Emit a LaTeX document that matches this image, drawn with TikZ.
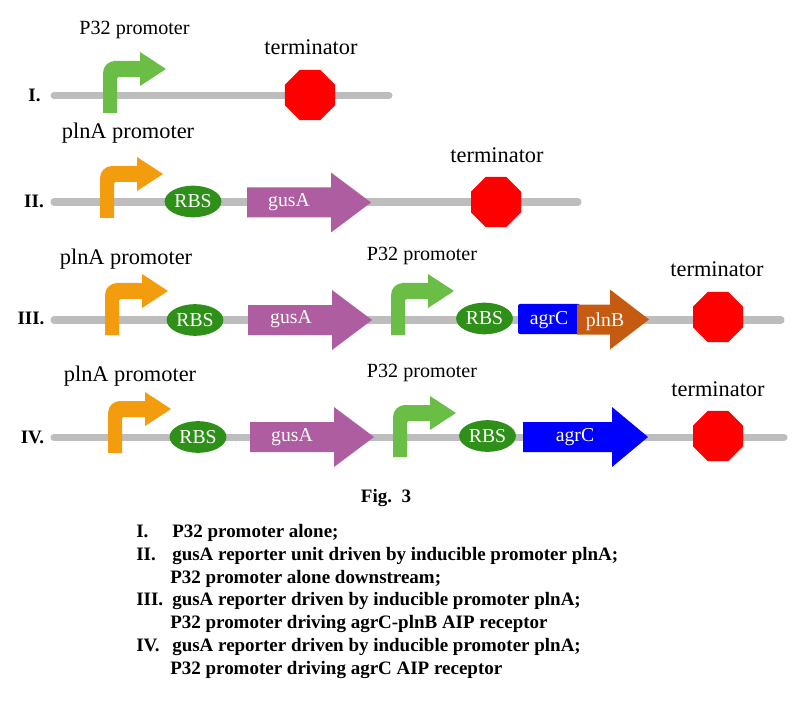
\documentclass[tikz,border=0pt]{standalone}
\usepackage{fontspec}
\setmainfont{Liberation Serif}
\usetikzlibrary{shapes.geometric}
\definecolor{backbonegray}{HTML}{BDBDBD}
\definecolor{p32green}{HTML}{6ABD45}
\definecolor{plnAorange}{HTML}{F39C0E}
\definecolor{rbsgreen}{HTML}{2F9019}
\definecolor{gusApurple}{HTML}{AE5DA1}
\definecolor{plnBorange}{HTML}{C55A11}
\tikzset{
	backbone/.style={line width=5pt, line cap=round, color=backbonegray},
	labeltext/.style={yshift=-1.2pt, font=\fontsize{15.9}{18}\selectfont},
	smalllabel/.style={yshift=-1.6pt, font=\fontsize{14.3}{16}\selectfont},
	genetext/.style={text=white, yshift=-1.2pt, font=\fontsize{14}{16}\selectfont},
	rownum/.style={font=\bfseries\fontsize{13.5}{16}\selectfont},
	captiontext/.style={anchor=base west, inner sep=0, font=\bfseries\fontsize{13.5}{16}\selectfont},
	rbsnode/.style={ellipse, fill=rbsgreen, minimum width=1.42cm, minimum height=0.79cm, inner sep=0, text=white, font=\fontsize{14}{16}\selectfont},
	stopnode/.style={regular polygon, regular polygon sides=8, fill=red, minimum size=1.353cm, inner sep=0, outer sep=0}
}
\def\promoter[#1](#2,#3){\fill[#1] (#2,#3) [rounded corners=0.3cm] -- ++(0,-52) -- ++(22,0) [sharp corners] -- ++(15,0) -- ++(0,-9) -- ++(26,17) -- ++(-26,17) -- ++(0,-9) -- ++(-12,0) [rounded corners=0.05cm] -- ++(-11,0) [sharp corners] -- ++(0,36) -- cycle;}
\def\genearrow[#1](#2,#3)(#4:#5){\fill[#1] (#2,#3-15) -- (#4,#3-15) -- (#4,#3-30) -- (#5,#3) -- (#4,#3+30) -- (#4,#3+15) -- (#2,#3+15) -- cycle;}

\begin{document}
\begin{tikzpicture}[x=0.025cm,y=-0.025cm]
				\useasboundingbox (0,0) rectangle (800,701);
				
				% row I
				\coordinate (startI) at (54,95.5);
				\coordinate (endI) at (389,95.5);
				\draw[backbone] (startI) -- (endI);
				\promoter[p32green](103,113);
				\node[stopnode] (stopI) at (310,95) {};
				\node[rownum] (numI) at (34.5,95) {I.};
				\node[smalllabel] (promI) at (134.5,28) {P32 promoter};
				\node[labeltext] (termI) at (311,46) {terminator};
				
				% row II
				\coordinate (startII) at (54,202);
				\coordinate (endII) at (578,202);
				\draw[backbone] (startII) -- (endII);
				\promoter[plnAorange](100,218);
				\node[rbsnode] (rbsII) at (193,201.5) {RBS};
				\genearrow[gusApurple](247,202.5)(331:371);
				\node[genetext] (gusII) at (289,200) {gusA};
				\node[stopnode] (stopII) at (496,202) {};
				\node[rownum] (numII) at (34,201) {II.};
				\node[labeltext] (promII) at (128,131) {plnA promoter};
				\node[labeltext] (termII) at (497,154) {terminator};
				
				% row III
				\coordinate (startIII) at (54,320);
				\coordinate (endIII) at (781,320);
				\draw[backbone] (startIII) -- (endIII);
				\promoter[plnAorange](105,335);
				\promoter[p32green](391,335);
				\node[rbsnode] (rbsIIIa) at (195,320) {RBS};
				\node[rbsnode] (rbsIIIb) at (484.5,318.5) {RBS};
				\genearrow[gusApurple](248,320)(332:372);
				\fill[blue, rounded corners=0.05cm] (518,304) rectangle (580,334);
				\genearrow[plnBorange](577,319.5)(610:649);
				\node[genetext] (gusIII) at (291,317) {gusA};
				\node[genetext] (agrIII) at (549,318) {agrC};
				\node[genetext] (plnIII) at (605,320) {plnB};
				\node[stopnode] (stopIII) at (718,317) {};
				\node[rownum] (numIII) at (31,318) {III.};
				\node[labeltext] (promIIIa) at (126,257) {plnA promoter};
				\node[smalllabel] (promIIIb) at (422,254) {P32 promoter};
				\node[labeltext] (termIII) at (717,268) {terminator};
				
				% row IV
				\coordinate (startIV) at (54,437.5);
				\coordinate (endIV) at (784,437.5);
				\draw[backbone] (startIV) -- (endIV);
				\promoter[plnAorange](108,453);
				\promoter[p32green](393,457);
				\node[rbsnode] (rbsIVa) at (198,437) {RBS};
				\node[rbsnode] (rbsIVb) at (487.5,436) {RBS};
				\genearrow[gusApurple](250,437)(334:374);
				\genearrow[blue](523,437)(612:648);
				\node[genetext] (gusIV) at (292,435) {gusA};
				\node[genetext] (agrIV) at (575,435) {agrC};
				\node[stopnode] (stopIV) at (718,436) {};
				\node[rownum] (numIV) at (32.5,437) {IV.};
				\node[labeltext] (promIVa) at (130,374) {plnA promoter};
				\node[smalllabel] (promIVb) at (422,371) {P32 promoter};
				\node[labeltext] (termIV) at (718,388) {terminator};
				
				% caption
				\node[rownum] (fig) at (386,498) {Fig.\ \ 3};
				\node[captiontext] (capa) at (136,537) {I.};
				\node[captiontext] (capb) at (172,537) {P32 promoter alone;};
				\node[captiontext] (capc) at (136,560) {II.};
				\node[captiontext] (capd) at (172,560) {gusA reporter unit driven by inducible promoter plnA;};
				\node[captiontext] (cape) at (170,583) {P32 promoter alone downstream;};
				\node[captiontext] (capf) at (136,605) {III.};
				\node[captiontext] (capg) at (172,605) {gusA reporter driven by inducible promoter plnA;};
				\node[captiontext] (caph) at (170,628) {P32 promoter driving agrC-plnB AIP receptor};
				\node[captiontext] (capi) at (136,651) {IV.};
				\node[captiontext] (capj) at (172,651) {gusA reporter driven by inducible promoter plnA;};
				\node[captiontext] (capk) at (170,674) {P32 promoter driving agrC AIP receptor};
			\end{tikzpicture}
\end{document}
